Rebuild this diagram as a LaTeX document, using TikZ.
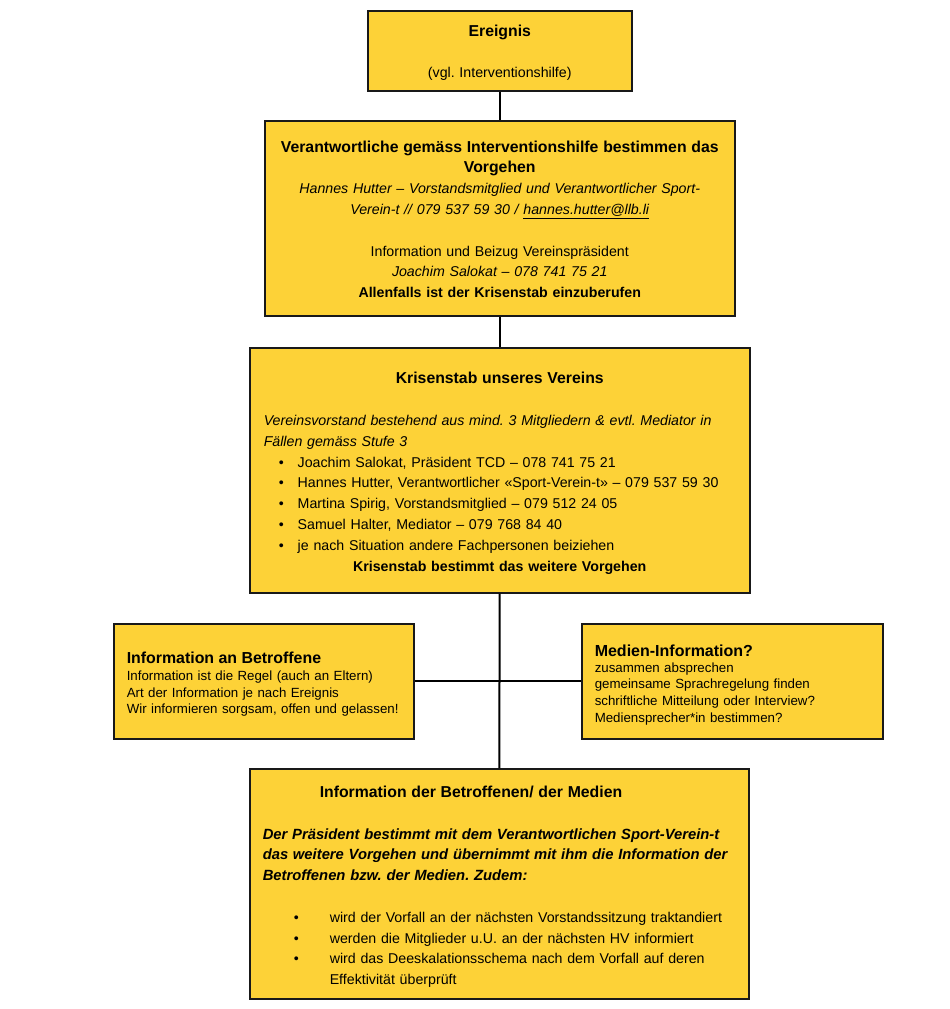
\documentclass[tikz,border=0pt]{standalone}
\usepackage{fontspec}
\setmainfont{Liberation Sans}
\frenchspacing
\definecolor{boxgelb}{RGB}{253,210,55}
\newcommand\mitte[1]{\makebox[\linewidth]{#1}}
\newcommand\punkt[3]{\hspace*{#1}\makebox[#2][l]{•}#3}
\newcommand\titel[1]{{\fontsize{15.8pt}{20.8pt}\selectfont\textbf{#1}}}
\newcommand\hoch[1]{\rule{0pt}{#1}}
\begin{document}
\begin{tikzpicture}[x=1pt,y=-1pt,
    box/.style={draw=black!90, line width=1.5pt, fill=boxgelb, anchor=north west,
        inner xsep=#1, inner ysep=0pt, font=\fontsize{14.2pt}{20.8pt}\selectfont},
    box/.default=6pt,
    klein/.style={font=\fontsize{13.3pt}{16.3pt}\selectfont, align=left},
    linie/.style={line width=2pt, black}]
    \useasboundingbox (0,0) rectangle (950,1009);
    % oben
    \node[box, minimum width=264pt, minimum height=80pt, text width=252pt, align=center]
        (ereignis) at (367,10) {\hoch{15.3pt}\titel{Ereignis}\\[20.8pt](vgl. Interventionshilfe)};
    \node[box, minimum width=470pt, minimum height=195pt, text width=458pt, align=center]
        (vorgehen) at (264,120) {\hoch{13.5pt}\titel{Verantwortliche gemäss Interventionshilfe bestimmen das}\\
        \titel{Vorgehen}\\
        \textit{Hannes Hutter – Vorstandsmitglied und Verantwortlicher Sport-}\\
        \textit{Verein-t // 079 537 59 30 / \underline{hannes.hutter@llb.li}}\\[20.8pt]
        Information und Beizug Vereinspräsident\\
        \textit{Joachim Salokat – 078 741 75 21}\\
        \textbf{Allenfalls ist der Krisenstab einzuberufen}};
    \node[box=14pt, minimum width=500pt, minimum height=245pt, text width=472pt, align=left]
        (krisenstab) at (249,347) {\mitte{\hoch{17.5pt}\titel{Krisenstab unseres Vereins}}\\[20.8pt]
        \textit{Vereinsvorstand bestehend aus mind. 3 Mitgliedern \& evtl. Mediator in}\\
        \textit{Fällen gemäss Stufe 3}\\
        \punkt{15pt}{19pt}{Joachim Salokat, Präsident TCD – 078 741 75 21}\\
        \punkt{15pt}{19pt}{Hannes Hutter, Verantwortlicher «Sport-Verein-t» – 079 537 59 30}\\
        \punkt{15pt}{19pt}{Martina Spirig, Vorstandsmitglied – 079 512 24 05}\\
        \punkt{15pt}{19pt}{Samuel Halter, Mediator – 079 768 84 40}\\
        \punkt{15pt}{19pt}{je nach Situation andere Fachpersonen beiziehen}\\
        \mitte{\textbf{Krisenstab bestimmt das weitere Vorgehen}}};
    % seitlich
    \node[box=13pt, klein, minimum width=300pt, minimum height=115pt, text width=274pt]
        (betroffene) at (113,623) {\hoch{17.6pt}{\fontsize{15.9pt}{18pt}\selectfont\textbf{Information an Betroffene}}\\[0.5pt]
        Information ist die Regel (auch an Eltern)\\
        Art der Information je nach Ereignis\\
        Wir informieren sorgsam, offen und gelassen!};
    \node[box=13pt, klein, minimum width=301pt, minimum height=115pt, text width=275pt]
        (medien) at (581,623) {\hoch{18.7pt}{\fontsize{16pt}{17pt}\selectfont\textbf{Medien-Information?}}\\
        zusammen absprechen\\
        gemeinsame Sprachregelung finden\\
        schriftliche Mitteilung oder Interview?\\[0.5pt]
        Mediensprecher*in bestimmen?};
    % unten
    \node[box=13pt, minimum width=499pt, minimum height=230pt, text width=473pt, align=left]
        (info) at (249,768) {\hoch{17.5pt}\hspace*{57pt}\titel{Information der Betroffenen/ der Medien}\\[20.8pt]
        {\fontsize{14.8pt}{20.8pt}\selectfont\bfseries\itshape
        Der Präsident bestimmt mit dem Verantwortlichen Sport-Verein-t\\
        das weitere Vorgehen und übernimmt mit ihm die Information der\\
        Betroffenen bzw. der Medien. Zudem:}\\[20.8pt]
        \punkt{31pt}{36pt}{wird der Vorfall an der nächsten Vorstandssitzung traktandiert}\\
        \punkt{31pt}{36pt}{werden die Mitglieder u.U. an der nächsten HV informiert}\\
        \punkt{31pt}{36pt}{wird das Deeskalationsschema nach dem Vorfall auf deren}\\
        \hspace*{67pt}Effektivität überprüft};
    % verbindungen
    \draw[linie] (ereignis) -- (vorgehen);
    \draw[linie] (vorgehen) -- (krisenstab);
    \draw[linie] (krisenstab) -- (info);
    \draw[linie] (betroffene) -- (medien);
\end{tikzpicture}
\end{document}
